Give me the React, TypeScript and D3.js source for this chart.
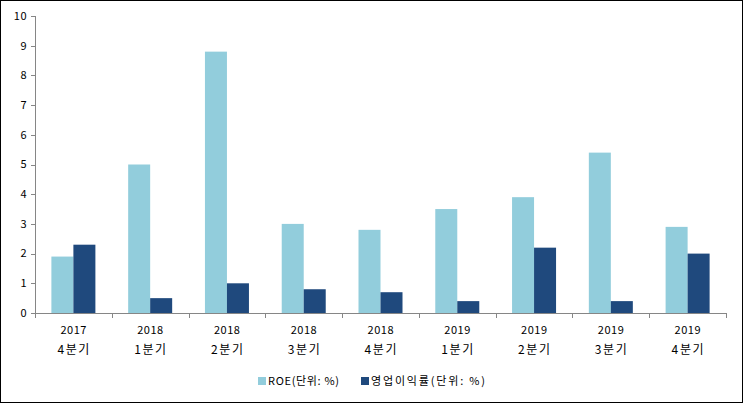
import React from "react";
import * as d3 from "d3";

const years = ["2017", "2018", "2018", "2018", "2018", "2019", "2019", "2019", "2019"];
const quarters = ["4분기", "1분기", "2분기", "3분기", "4분기", "1분기", "2분기", "3분기", "4분기"];
const roe = [1.9, 5.0, 8.8, 3.0, 2.8, 3.5, 3.9, 5.4, 2.9];
const opMargin = [2.3, 0.5, 1.0, 0.8, 0.7, 0.4, 2.2, 0.4, 2.0];
const yTicks = [0, 1, 2, 3, 4, 5, 6, 7, 8, 9, 10];
const seriesNames = ["ROE(단위: %)", "영업이익률(단위: %)"];
const colors = ["#92CDDC", "#1F497D"];

export default function App() {
  const W = 743, H = 403;
  const left = 35, right = 726, top = 16, bottom = 313;
  const idx = d3.range(years.length).map(String);
  const x = d3.scaleBand<string>().domain(idx).range([left, right]).paddingInner(0).paddingOuter(0);
  const y = d3.scaleLinear().domain([0, 10]).range([bottom, top]);
  const bw = 22;
  const font = "'Noto Sans CJK KR', 'DejaVu Sans', sans-serif";
  const axisColor = "#868686";
  const series = [roe, opMargin];
  const legendX = [258, 361];
  const legendLen = [71, 114];
  return (
    <svg width={W} height={H} style={{ position: "absolute", left: 0, top: 0 }} fontFamily={font}>
      <rect x={0.5} y={0.5} width={W - 1} height={H - 1} fill="#fff" stroke="#000" />
      {series.map((s, si) =>
        s.map((v, i) => {
          const cx = x(String(i))! + x.bandwidth() / 2;
          const bx = cx - bw + si * bw;
          return <rect key={`${si}-${i}`} x={bx} y={y(v)} width={bw} height={y(0) - y(v)} fill={colors[si]} />;
        })
      )}
      <line x1={left + 0.5} x2={left + 0.5} y1={top} y2={bottom} stroke={axisColor} />
      {yTicks.map((t) => (
        <g key={t}>
          <line x1={left - 4} x2={left} y1={Math.round(y(t)) + 0.5} y2={Math.round(y(t)) + 0.5} stroke={axisColor} />
          <text x={left - 8} y={y(t)} dy="0.35em" textAnchor="end" fontSize={11} letterSpacing={0.5} fill="#000">{t}</text>
        </g>
      ))}
      <line x1={left} x2={right} y1={bottom + 0.5} y2={bottom + 0.5} stroke={axisColor} />
      {d3.range(years.length + 1).map((i) => {
        const xx = Math.round(left + i * x.bandwidth()) + 0.5;
        return <line key={i} x1={xx} x2={xx} y1={bottom} y2={bottom + 5} stroke={axisColor} />;
      })}
      {years.map((yr, i) => {
        const cx = x(String(i))! + x.bandwidth() / 2;
        return (
          <g key={i}>
            <text x={cx} y={334} textAnchor="middle" fontSize={11} textLength={26} lengthAdjust="spacing" fill="#000">{yr}</text>
            <text x={cx} y={354} textAnchor="middle" fontSize={12} textLength={32} lengthAdjust="spacing" fill="#000">{quarters[i]}</text>
          </g>
        );
      })}
      {seriesNames.map((n, i) => {
        const lx = legendX[i];
        return (
          <g key={n}>
            <rect x={lx} y={377} width={8} height={8} fill={colors[i]} />
            <text x={lx + 10} y={381} dy="0.35em" fontSize={11} textLength={legendLen[i]} lengthAdjust="spacing" fill="#000">{n}</text>
          </g>
        );
      })}
    </svg>
  );
}
